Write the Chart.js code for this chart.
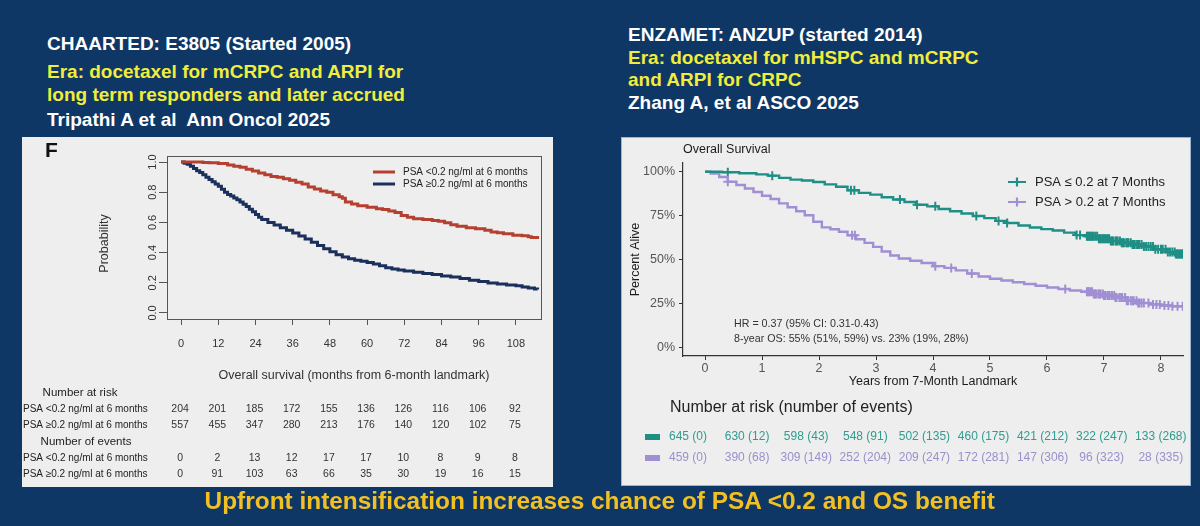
<!DOCTYPE html>
<html>
<head>
<meta charset="utf-8">
<script src="https://cdn.jsdelivr.net/npm/chart.js@4.4.1/dist/chart.umd.min.js"></script>
<style>
html,body{margin:0;padding:0;}
body{width:1200px;height:526px;background:#0e3766;position:relative;overflow:hidden;font-family:'Liberation Sans',Arial,Helvetica,sans-serif;}
.t{position:absolute;white-space:nowrap;font-weight:bold;font-size:19px;line-height:22px;}
.w{color:#ffffff}
.y{color:#f1ed3b}
canvas{position:absolute;background:#eeeeee;}
#cl{left:22px;top:137px;}
#cr{left:622px;top:138px;box-shadow:0 0 0 1px #9fb4cc;}
#bottom{position:absolute;left:0;top:486px;width:1200px;height:30px;text-align:center;line-height:30px;}
#bottom span{display:inline-block;color:#f3c024;font-weight:bold;font-size:24.5px;font-family:'Liberation Sans Narrow','Arial Narrow','Liberation Sans',Arial,sans-serif;transform-origin:50% 50%;white-space:nowrap;}
</style>
</head>
<body>
<div class="t w" style="left:47px;top:33px">CHAARTED: E3805 (Started 2005)</div>
<div class="t y" style="left:47px;top:61px">Era: docetaxel for mCRPC and ARPI for</div>
<div class="t y" style="left:47px;top:84px">long term responders and later accrued</div>
<div class="t w" style="left:47px;top:109px">Tripathi A et al&nbsp; Ann Oncol 2025</div>

<div class="t w" style="left:628px;top:24px">ENZAMET: ANZUP (started 2014)</div>
<div class="t y" style="left:628px;top:47px">Era: docetaxel for mHSPC and mCRPC</div>
<div class="t y" style="left:628px;top:69px">and ARPI for CRPC</div>
<div class="t w" style="left:628px;top:92px">Zhang A, et al ASCO 2025</div>

<canvas id="cl" width="531" height="350"></canvas>
<canvas id="cr" width="568" height="347"></canvas>

<div id="bottom"><span id="bt">Upfront intensification increases chance of PSA &lt;0.2 and OS benefit</span></div>

<script>
// ---------------- DATA: CHAARTED (left) ----------------
const leftLabels = ['PSA <0.2 ng/ml at 6 months', 'PSA \u22650.2 ng/ml at 6 months'];
const leftMonthsLow = [0,7,9,12,15,17,19,21,23,25,27,29,31,33,35,37,39,41,43,45,47,49,51,52,53,55,57,60,63,65,67,69,71,73,75,78,81,83,85,87,89,92,95,98,100,102,104,107,110,112,113,115];
const leftSurvLow = [1.0,0.997,0.995,0.99,0.98,0.972,0.965,0.952,0.94,0.928,0.915,0.905,0.9,0.89,0.88,0.866,0.855,0.835,0.822,0.808,0.8,0.783,0.77,0.76,0.735,0.722,0.71,0.70,0.69,0.685,0.676,0.665,0.645,0.635,0.625,0.62,0.613,0.608,0.598,0.585,0.575,0.565,0.558,0.548,0.537,0.532,0.525,0.515,0.512,0.505,0.5,0.49];
const leftMonthsHigh = [0,1,2,3,4,5,6,7,8,9,10,11,12,13,14,15,16,17,18,19,20,21,22,23,24,25,26,28,30,32,34,36,38,40,42,44,46,48,50,52,54,56,58,60,62,64,66,68,70,72,75,78,81,84,87,90,93,96,99,102,105,108,110,112,114,115];
const leftSurvHigh = [1.0,0.992,0.985,0.972,0.958,0.943,0.93,0.915,0.9,0.885,0.87,0.855,0.84,0.82,0.80,0.785,0.775,0.762,0.75,0.735,0.72,0.705,0.688,0.67,0.652,0.635,0.62,0.6,0.582,0.565,0.548,0.53,0.51,0.49,0.468,0.447,0.425,0.405,0.385,0.37,0.36,0.35,0.342,0.335,0.325,0.312,0.3,0.292,0.285,0.278,0.27,0.262,0.255,0.245,0.238,0.228,0.216,0.208,0.198,0.192,0.185,0.18,0.172,0.165,0.158,0.155];
const leftXTicks = [0,12,24,36,48,60,72,84,96,108];
const leftYTicks = [0,0.2,0.4,0.6,0.8,1.0];
const riskLow = [204,201,185,172,155,136,126,116,106,92];
const riskHigh = [557,455,347,280,213,176,140,120,102,75];
const eventsLow = [0,2,13,12,17,17,10,8,9,8];
const eventsHigh = [0,91,103,63,66,35,30,19,16,15];

// ---------------- DATA: ENZAMET (right) ----------------
const rightLabels = ['PSA \u2264 0.2 at 7 Months', 'PSA > 0.2 at 7 Months'];
const rightYearsLow = [0,0.3,0.6,0.9,1.1,1.3,1.5,1.7,1.9,2.1,2.3,2.5,2.7,2.9,3.1,3.3,3.5,3.7,3.9,4.1,4.3,4.5,4.7,4.9,5.1,5.3,5.5,5.7,5.9,6.1,6.3,6.5,6.7,6.9,7.1,7.3,7.5,7.7,7.9,8.1,8.25,8.4];
const rightPctLow = [100,99.7,99.2,98.5,97.8,96.5,95.5,95.0,94.2,92.8,91.5,89.5,88.0,87.0,85.5,84.2,82.8,81.2,80.3,78.8,77.5,76.2,74.8,73.6,72.0,70.8,69.4,68.2,67.3,66.5,65.3,63.9,63.2,61.8,60.6,59.6,58.6,57.4,55.8,54.3,53.2,53.0];
const rightYearsHigh = [0,0.1,0.25,0.4,0.55,0.7,0.85,1.0,1.15,1.3,1.45,1.6,1.75,1.9,2.05,2.2,2.35,2.5,2.65,2.8,2.95,3.1,3.25,3.4,3.6,3.8,4.0,4.2,4.4,4.6,4.8,5.0,5.2,5.4,5.6,5.8,6.0,6.2,6.4,6.6,6.8,7.0,7.2,7.4,7.6,7.8,8.0,8.2,8.4];
const rightPctHigh = [100,99,97,94.3,92.5,90.5,88.5,86.3,84.5,82,79.8,77.5,75.2,71.5,68.3,67.2,65.8,63.8,61.5,59.5,57.2,54.6,52.3,50.6,49.3,48.0,46.2,45.2,43.8,42.0,40.3,39.0,38.0,37.0,36.0,35.0,34.0,33.2,32.3,31.6,30.3,29.5,28.4,26.5,25.2,24.4,23.8,23.3,23.2];
const censorYearsLow = [0.4,1.18,2.56,2.62,3.42,3.72,4.04,4.76,5.15,5.3,6.52,6.58,6.7,6.72,6.74,6.76,6.78,6.8,6.82,6.85,6.88,6.91,6.93,6.95,6.98,7.0,7.02,7.05,7.07,7.09,7.12,7.14,7.16,7.2,7.22,7.24,7.28,7.31,7.33,7.35,7.39,7.41,7.43,7.47,7.5,7.52,7.54,7.58,7.6,7.62,7.66,7.7,7.74,7.78,7.82,7.86,7.9,7.95,8.0,8.03,8.08,8.12,8.16,8.2,8.24,8.26,8.28,8.3,8.32,8.34,8.36,8.38,8.39];
const censorYearsHigh = [0.4,2.58,2.63,4.04,4.32,4.68,6.32,6.7,6.72,6.74,6.76,6.79,6.82,6.84,6.86,6.9,6.92,6.94,6.98,7.0,7.02,7.06,7.08,7.1,7.14,7.18,7.2,7.22,7.27,7.3,7.32,7.37,7.4,7.42,7.47,7.5,7.52,7.57,7.6,7.62,7.66,7.7,7.78,7.86,7.92,7.98,8.06,8.13,8.2,8.29,8.38];
const rightXTicks = [0,1,2,3,4,5,6,7,8];
const rightYTicks = [0,25,50,75,100];
const rightRiskLow = ['645 (0)','630 (12)','598 (43)','548 (91)','502 (135)','460 (175)','421 (212)','322 (247)','133 (268)'];
const rightRiskHigh = ['459 (0)','390 (68)','309 (149)','252 (204)','209 (247)','172 (281)','147 (306)','96 (323)','28 (335)'];
const hrText = ['HR = 0.37 (95% CI: 0.31-0.43)', '8-year OS: 55% (51%, 59%) vs. 23% (19%, 28%)'];

// ---------------- helpers ----------------
const FONT = "'Liberation Sans', Arial, Helvetica, sans-serif";
Chart.defaults.font.family = FONT;
const toXY = (xs, ys) => xs.map((x, i) => ({x: x, y: ys[i]}));
// value of a Kaplan-Meier step function at time t (censor marks sit on the curve)
const stepAt = (xs, ys, t) => { let v = ys[0]; for (let i = 0; i < xs.length; i++) { if (xs[i] <= t) v = ys[i]; } return v; };

const RED = '#b5402f', NAVY = '#1b2f5c';
const TEAL = '#1f8f86', PURPLE = '#a08fd2';

// ---------------- LEFT CHART ----------------
const leftPlugin = {
  id: 'leftDecor',
  afterDraw(chart) {
    const {ctx, chartArea: ca, scales: {x, y}} = chart;
    ctx.save();
    ctx.strokeStyle = '#555'; ctx.lineWidth = 1;
    ctx.strokeRect(Math.round(ca.left) + 0.5, Math.round(ca.top) + 0.5, Math.round(ca.right - ca.left), Math.round(ca.bottom - ca.top));
    // rotated y tick labels (R style)
    ctx.fillStyle = '#333'; ctx.font = '11px ' + FONT; ctx.textAlign = 'center'; ctx.textBaseline = 'middle';
    leftYTicks.forEach(v => {
      ctx.save(); ctx.translate(ca.left - 14, y.getPixelForValue(v)); ctx.rotate(-Math.PI / 2);
      ctx.fillText(v.toFixed(1), 0, 0); ctx.restore();
    });
    ctx.save(); ctx.font = '12.5px ' + FONT; ctx.fillStyle = '#333';
    ctx.translate(ca.left - 62, (ca.top + ca.bottom) / 2 + 6); ctx.rotate(-Math.PI / 2);
    ctx.fillText('Probability', 0, 0); ctx.restore();
    // panel letter
    ctx.font = 'bold 21px ' + FONT; ctx.fillStyle = '#111'; ctx.textAlign = 'left';
    ctx.fillText('F', 23, 14);
    // legend
    ctx.font = '10px ' + FONT; ctx.textBaseline = 'middle';
    chart.data.datasets.forEach((ds, i) => {
      const ly = 35 + i * 12;
      ctx.strokeStyle = ds.borderColor; ctx.lineWidth = 3;
      ctx.beginPath(); ctx.moveTo(351, ly); ctx.lineTo(373, ly); ctx.stroke();
      ctx.fillStyle = '#222'; ctx.fillText(ds.label, 381, ly);
    });
    // risk table
    ctx.fillStyle = '#222'; ctx.font = '11.5px ' + FONT; ctx.textAlign = 'center';
    ctx.fillText('Number at risk', 58, 256);
    ctx.fillText('Number of events', 64, 305);
    const rows = [[leftLabels[0], riskLow, 272], [leftLabels[1], riskHigh, 288], [leftLabels[0], eventsLow, 321], [leftLabels[1], eventsHigh, 337]];
    rows.forEach(([lab, vals, ry]) => {
      ctx.font = '10px ' + FONT; ctx.textAlign = 'left'; ctx.fillStyle = '#222';
      ctx.fillText(lab, 1, ry);
      ctx.textAlign = 'center'; ctx.fillStyle = '#333'; ctx.font = '10.5px ' + FONT;
      vals.forEach((v, i) => ctx.fillText(String(v), x.getPixelForValue(leftXTicks[i]) - 1, ry));
    });
    ctx.restore();
  }
};

new Chart(document.getElementById('cl'), {
  type: 'line',
  data: {
    datasets: [
      {label: leftLabels[0], data: toXY(leftMonthsLow, leftSurvLow), borderColor: RED, borderWidth: 3, stepped: true, pointRadius: 0, fill: false},
      {label: leftLabels[1], data: toXY(leftMonthsHigh, leftSurvHigh), borderColor: NAVY, borderWidth: 3, stepped: true, pointRadius: 0, fill: false}
    ]
  },
  options: {
    responsive: false, animation: false, events: [],
    layout: {padding: {left: 0, top: 19, right: 12, bottom: 102}},
    plugins: {legend: {display: false}, tooltip: {enabled: false}},
    scales: {
      x: {
        type: 'linear', min: -4.55, max: 116.1,
        afterBuildTicks: s => { s.ticks = leftXTicks.map(v => ({value: v})); },
        afterFit: s => { s.height = 66; },
        ticks: {color: '#333', font: {size: 11}, padding: 12, maxRotation: 0, autoSkip: false},
        grid: {drawOnChartArea: false, tickLength: 6, color: '#555'},
        border: {display: true, color: '#555'},
        title: {display: true, text: 'Overall survival (months from 6-month landmark)', color: '#333', font: {size: 12.5}, padding: {top: 0, bottom: 2}}
      },
      y: {
        min: -0.04, max: 1.04,
        afterBuildTicks: s => { s.ticks = leftYTicks.map(v => ({value: v})); },
        afterFit: s => { s.width = 145; },
        ticks: {display: false},
        grid: {drawOnChartArea: false, tickLength: 8, color: '#555'},
        border: {display: true, color: '#555'}
      }
    }
  },
  plugins: [leftPlugin]
});

// ---------------- RIGHT CHART ----------------
const crossPts = (times, xs, ys) => times.map(t => ({x: t, y: stepAt(xs, ys, t)}));

const rightPlugin = {
  id: 'rightDecor',
  afterDraw(chart) {
    const {ctx, chartArea: ca, scales: {x}} = chart;
    ctx.save();
    ctx.fillStyle = '#1a1a1a'; ctx.font = '12.5px ' + FONT; ctx.textAlign = 'left'; ctx.textBaseline = 'middle';
    ctx.fillText('Overall Survival', ca.left, 12);
    // legend
    ctx.font = '13px ' + FONT;
    [0, 1].forEach(i => {
      const ds = chart.data.datasets[i];
      const ly = 44 + i * 20;
      ctx.strokeStyle = ds.borderColor; ctx.lineWidth = 2.2;
      ctx.beginPath(); ctx.moveTo(386, ly); ctx.lineTo(404, ly); ctx.moveTo(395, ly - 4.5); ctx.lineTo(395, ly + 4.5); ctx.stroke();
      ctx.fillStyle = '#222'; ctx.fillText(ds.label, 413, ly);
    });
    // HR annotation
    ctx.fillStyle = '#333'; ctx.font = '10.7px ' + FONT;
    ctx.fillText(hrText[0], ca.left + 51, 186);
    ctx.fillText(hrText[1], ca.left + 51, 201);
    // risk table
    ctx.fillStyle = '#222'; ctx.font = '16px ' + FONT;
    ctx.fillText('Number at risk (number of events)', 48, 270);
    const rows = [[rightRiskLow, 299, TEAL, '#2f9c91'], [rightRiskHigh, 320, PURPLE, '#9b8fcc']];
    rows.forEach(([vals, ry, sw, tc]) => {
      ctx.fillStyle = sw; ctx.fillRect(23, ry - 3, 15, 6);
      ctx.fillStyle = tc; ctx.font = '12px ' + FONT; ctx.textAlign = 'center';
      vals.forEach((v, i) => ctx.fillText(v, x.getPixelForValue(rightXTicks[i]) - 17 + i * 2.1, ry));
      ctx.textAlign = 'left';
    });
    ctx.restore();
  }
};

new Chart(document.getElementById('cr'), {
  type: 'line',
  data: {
    datasets: [
      {label: rightLabels[0], data: toXY(rightYearsLow, rightPctLow), borderColor: TEAL, borderWidth: 2.4, stepped: true, pointRadius: 0, fill: false},
      {label: rightLabels[1], data: toXY(rightYearsHigh, rightPctHigh), borderColor: PURPLE, borderWidth: 2.4, stepped: true, pointRadius: 0, fill: false},
      {label: 'censor low', data: crossPts(censorYearsLow, rightYearsLow, rightPctLow), showLine: false, pointStyle: 'cross', pointRadius: 4.5, borderColor: TEAL, borderWidth: 2},
      {label: 'censor high', data: crossPts(censorYearsHigh, rightYearsHigh, rightPctHigh), showLine: false, pointStyle: 'cross', pointRadius: 4.5, borderColor: PURPLE, borderWidth: 2}
    ]
  },
  options: {
    responsive: false, animation: false, events: [],
    layout: {padding: {left: 0, top: 25, right: 7, bottom: 89}},
    plugins: {legend: {display: false}, tooltip: {enabled: false}},
    scales: {
      x: {
        type: 'linear', min: -0.386, max: 8.386,
        afterBuildTicks: s => { s.ticks = rightXTicks.map(v => ({value: v})); },
        afterFit: s => { s.height = 40; },
        ticks: {color: '#555', font: {size: 12.5}, padding: 1, maxRotation: 0, autoSkip: false},
        grid: {drawOnChartArea: false, tickLength: 4, color: '#333'},
        border: {display: true, color: '#333', width: 1.2},
        title: {display: true, text: 'Years from 7-Month Landmark', color: '#1a1a1a', font: {size: 12.5}, padding: {top: 0, bottom: 7}}
      },
      y: {
        min: -5, max: 105,
        afterBuildTicks: s => { s.ticks = rightYTicks.map(v => ({value: v})); },
        afterFit: s => { s.width = 61; },
        ticks: {color: '#555', font: {size: 12.5}, padding: 4, callback: v => v + '%'},
        grid: {drawOnChartArea: false, tickLength: 4, color: '#333'},
        border: {display: true, color: '#333', width: 1.2},
        title: {display: true, text: 'Percent Alive', color: '#1a1a1a', font: {size: 12.5}, padding: {top: 6, bottom: 0}}
      }
    }
  },
  plugins: [rightPlugin]
});

// fit the bottom headline to its width in the slide
(function () {
  const s = document.getElementById('bt');
  const w = s.getBoundingClientRect().width;
  if (w > 0) s.style.transform = 'scaleX(' + (790 / w).toFixed(3) + ')';
})();
</script>
</body>
</html>
